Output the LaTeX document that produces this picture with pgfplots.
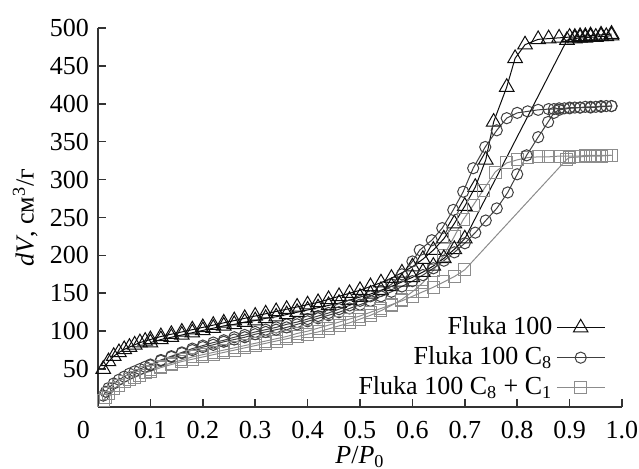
\documentclass[border=0pt]{standalone}
\usepackage{fontspec}
\setmainfont{Liberation Serif}
\usepackage{pgfplots}
\pgfplotsset{compat=1.18}
\definecolor{cA}{gray}{0.05}
\definecolor{cB}{gray}{0.25}
\definecolor{cC}{gray}{0.55}
\begin{document}
\fontsize{13}{15}\selectfont
\begin{tikzpicture}
\begin{axis}[
  scale only axis, width=262pt, height=189.5pt,
  xmin=0, xmax=1, ymin=0, ymax=500,
  enlargelimits=false,
  axis x line*=bottom, axis y line*=left,
  axis line style={black!80, line width=0.8pt},
  every tick/.style={black!80, line width=0.8pt},
  major tick length=4pt,
  tick align=inside,
  xtick={0,0.1,0.2,0.3,0.4,0.5,0.6,0.7,0.8,0.9,1.0},
  xticklabels={\makebox[0pt][r]{0\kern4pt},0.1,0.2,0.3,0.4,0.5,0.6,0.7,0.8,0.9,1.0},
  ytick={50,100,150,200,250,300,350,400,450,500},
  /pgf/number format/assume math mode=true,
  xticklabel style={yshift=-2.5pt},
  xlabel={\textit{P}/\textit{P}\textsubscript{0}},
  ylabel={\textit{dV}, см\textsuperscript{3}/г},
  xlabel style={at={(axis description cs:0.5,-0.132)}, anchor=center, inner sep=0pt},
  ylabel style={at={(axis description cs:-0.139,0.5)}, anchor=center},
  legend plot pos=right,
  legend cell align=right,
  legend style={draw=none, fill=none, at={(axis description cs:0.98,0.0)}, anchor=south east, row sep=0pt},
  legend image code/.code={\draw[mark repeat=2,mark phase=2] plot coordinates {(0cm,0cm) (0.42cm,0cm) (0.84cm,0cm)};},
]
% Fluka 100 - adsorption
\addplot[cA, line width=0.5pt, mark=triangle, mark size=4.2pt, mark options={solid, line width=0.5pt}] coordinates {
(0.01,50) (0.02,60) (0.03,67) (0.04,72) (0.05,76) (0.06,79) (0.07,82) (0.08,85) (0.09,87) (0.10,89) (0.12,93) (0.14,96) (0.16,99) (0.18,102) (0.20,105) (0.22,108) (0.24,111) (0.26,114) (0.28,117) (0.30,120) (0.32,123) (0.34,126) (0.36,129) (0.38,132) (0.40,135) (0.42,138) (0.44,142) (0.46,146) (0.48,150) (0.50,154) (0.52,159) (0.54,164) (0.56,170) (0.58,177) (0.60,185) (0.62,195) (0.64,207) (0.66,222) (0.68,242) (0.70,265) (0.72,290) (0.74,326) (0.755,376) (0.78,422) (0.796,460) (0.815,478) (0.84,485) (0.86,486) (0.88,487) (0.90,488) (0.91,488) (0.92,489) (0.93,489) (0.94,490) (0.96,491) (0.98,492)
};
\addlegendentry{Fluka 100}
% Fluka 100 C8 - adsorption
\addplot[cB, line width=0.5pt, mark=o, mark size=2.8pt, mark options={solid, line width=0.5pt}] coordinates {
(0.01,15) (0.015,20) (0.02,25) (0.03,31) (0.04,36) (0.05,40) (0.06,44) (0.07,47) (0.08,50) (0.09,53) (0.10,56) (0.12,62) (0.14,67) (0.16,72) (0.18,77) (0.20,81) (0.22,85) (0.24,88) (0.26,92) (0.28,95) (0.30,99) (0.32,102) (0.34,105) (0.36,109) (0.38,112) (0.40,116) (0.42,120) (0.44,124) (0.46,129) (0.48,134) (0.50,140) (0.52,146) (0.54,153) (0.56,162) (0.58,175) (0.60,192) (0.614,207) (0.637,220) (0.657,236) (0.678,260) (0.697,284) (0.716,315) (0.739,343) (0.761,365) (0.78,381) (0.80,388) (0.82,390) (0.84,392) (0.86,393) (0.87,393) (0.88,394) (0.89,394) (0.90,395) (0.91,395) (0.92,395) (0.93,396) (0.94,396) (0.95,396) (0.96,397) (0.97,397) (0.98,397)
};
\addlegendentry{Fluka 100 C\textsubscript{8}}
% Fluka 100 C8 + C1 - adsorption
\addplot[cC, line width=0.5pt, mark=square, mark size=3pt, mark options={solid, line width=0.5pt}] coordinates {
(0.01,8) (0.015,13) (0.02,18) (0.03,24) (0.04,29) (0.05,33) (0.06,36) (0.07,39) (0.08,42) (0.09,45) (0.10,47) (0.12,52) (0.14,56) (0.16,60) (0.18,63) (0.20,66) (0.22,69) (0.24,72) (0.26,75) (0.28,78) (0.30,81) (0.32,84) (0.34,87) (0.36,90) (0.38,93) (0.40,96) (0.42,99) (0.44,103) (0.46,107) (0.48,111) (0.50,116) (0.52,121) (0.54,127) (0.56,134) (0.58,142) (0.60,152) (0.62,164) (0.64,180) (0.66,200) (0.68,225) (0.697,247) (0.716,266) (0.735,286) (0.758,310) (0.78,322) (0.80,326) (0.82,329) (0.84,330) (0.86,330) (0.88,331) (0.90,331) (0.91,331) (0.92,331) (0.93,332) (0.94,332) (0.95,332) (0.96,332) (0.97,332) (0.98,332)
};
\addlegendentry{Fluka 100 C\textsubscript{8} + C\textsubscript{1}}
% desorption branches
\addplot[cA, line width=0.5pt, mark=triangle, mark size=4.2pt, mark options={solid, line width=0.5pt}, forget plot] coordinates {
(0.98,490) (0.97,489) (0.96,489) (0.95,488) (0.94,488) (0.93,487) (0.92,487) (0.91,486) (0.895,484) (0.70,222) (0.68,208) (0.66,196) (0.64,186) (0.62,178) (0.60,171) (0.58,165) (0.56,159) (0.54,154) (0.52,149) (0.50,145) (0.48,141) (0.46,137) (0.44,134) (0.42,131) (0.40,128) (0.38,125) (0.36,122) (0.34,119) (0.32,117) (0.30,114) (0.28,112) (0.26,109) (0.24,107) (0.22,104) (0.20,101) (0.18,98) (0.16,95) (0.14,92) (0.12,89) (0.10,85)
};
\addplot[cB, line width=0.5pt, mark=o, mark size=2.8pt, mark options={solid, line width=0.5pt}, forget plot] coordinates {
(0.98,397) (0.96,396) (0.94,395) (0.92,395) (0.90,394) (0.88,392) (0.87,388) (0.859,376) (0.84,356) (0.818,332) (0.80,307) (0.782,283) (0.761,262) (0.74,246) (0.72,230) (0.70,216) (0.68,204) (0.66,193) (0.64,183) (0.62,174) (0.60,166) (0.58,159) (0.56,152) (0.54,146) (0.52,140) (0.50,135) (0.48,130) (0.46,125) (0.44,121) (0.42,117) (0.40,113) (0.38,109) (0.36,105) (0.34,102) (0.32,99) (0.30,96) (0.28,92) (0.26,89) (0.24,86) (0.22,82) (0.20,79) (0.18,75) (0.16,71) (0.14,66) (0.12,61) (0.10,55)
};
\addplot[cC, line width=0.5pt, mark=square, mark size=3pt, mark options={solid, line width=0.5pt}, forget plot] coordinates {
(0.98,332) (0.96,331) (0.94,331) (0.92,330) (0.90,329) (0.895,327) (0.70,181) (0.68,172) (0.66,165) (0.64,158) (0.62,152) (0.60,146) (0.58,140) (0.56,135) (0.54,130) (0.52,125) (0.50,120) (0.48,116) (0.46,112) (0.44,108) (0.42,104) (0.40,100) (0.38,97) (0.36,93) (0.34,90) (0.32,87) (0.30,84) (0.28,81) (0.26,78) (0.24,75) (0.22,72) (0.20,69) (0.18,66) (0.16,62) (0.14,58) (0.12,54) (0.10,49)
};
\end{axis}
\pgfresetboundingbox
\path ([xshift=-49pt,yshift=-31pt]current axis.south west) rectangle ([xshift=8.5pt,yshift=14pt]current axis.north east);
\end{tikzpicture}
\end{document}
